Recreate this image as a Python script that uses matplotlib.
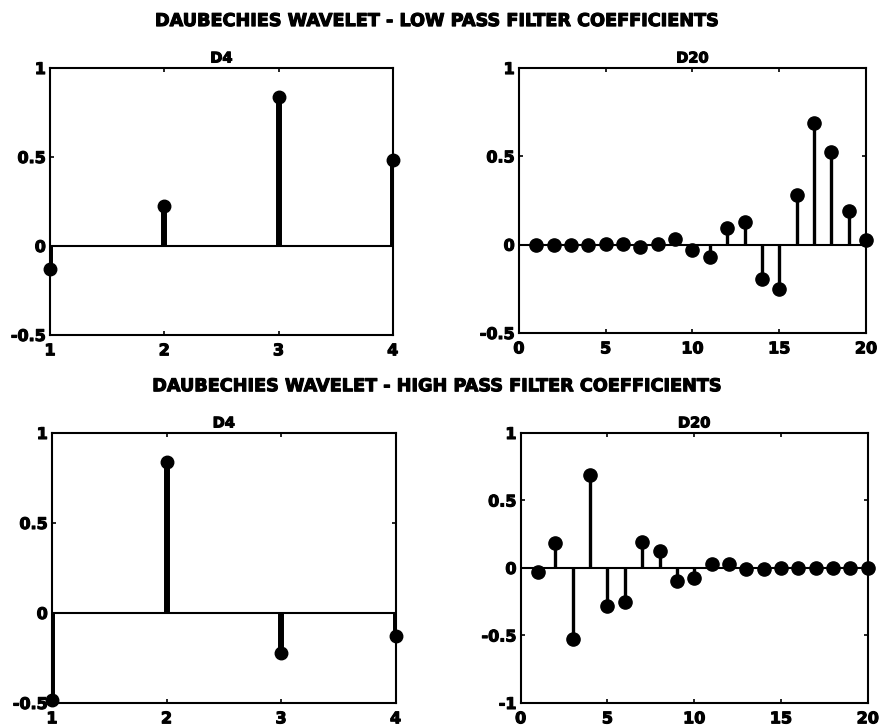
import numpy as np
import matplotlib.pyplot as plt
import matplotlib.patheffects as pe

# coefficient values
d4_low = [-0.129, 0.224, 0.837, 0.483]
d4_high = [-0.483, 0.837, -0.224, -0.129]
d20_low = [-0.00001, 0.0001, -0.0001, -0.0007, 0.002, 0.0014, -0.011, 0.004,
           0.033, -0.029, -0.071, 0.093, 0.127, -0.196, -0.250, 0.281,
           0.688, 0.527, 0.188, 0.027]
d20_high = [-0.027, 0.188, -0.527, 0.688, -0.281, -0.250, 0.196, 0.127,
            -0.093, -0.071, 0.029, 0.033, -0.004, -0.011, -0.0014, 0.002,
            0.0007, -0.0001, -0.0001, -0.00001]

plt.rcParams['font.family'] = 'DejaVu Sans'
plt.rcParams['font.weight'] = 'bold'

heavy = [pe.withStroke(linewidth=0.8, foreground='k')]

fig = plt.figure(figsize=(8.81, 7.26), dpi=100)


def stem_panel(rect, vals, title, xlim, xticks, ylim, yticks, lw, ms):
    ax = fig.add_axes(rect)
    x = np.arange(1, len(vals) + 1)
    ax.axhline(0, color='k', lw=1.5, zorder=1)
    ml, sl, bl = ax.stem(x, vals, linefmt='k-', markerfmt='ko', basefmt=' ')
    sl.set_linewidth(lw)
    ml.set_markersize(ms)
    ml.set_clip_on(False)
    ax.set_xlim(*xlim)
    ax.set_ylim(*ylim)
    ax.set_xticks(xticks)
    ax.set_yticks(yticks)
    ax.set_yticklabels([f'{t:g}' for t in yticks])
    ax.tick_params(direction='in', top=True, right=True, labelsize=11.5,
                   length=3, width=1.2, pad=3)
    ax.tick_params(axis='x', pad=6)
    for lab in ax.get_xticklabels() + ax.get_yticklabels():
        lab.set_path_effects(heavy)
    for s in ax.spines.values():
        s.set_linewidth(1.5)
    t = ax.set_title(title, fontsize=10.5, fontweight='bold', pad=4)
    t.set_path_effects(heavy)
    return ax


stem_panel([0.0568, 0.5386, 0.389, 0.3677], d4_low, 'D4', (1, 4), [1, 2, 3, 4],
           (-0.5, 1), [-0.5, 0, 0.5, 1], 4.3, 9)
stem_panel([0.589, 0.5413, 0.394, 0.365], d20_low, 'D20', (0, 20), [0, 5, 10, 15, 20],
           (-0.5, 1), [-0.5, 0, 0.5, 1], 2.4, 9.5)
stem_panel([0.059, 0.0317, 0.390, 0.3719], d4_high, 'D4', (1, 4), [1, 2, 3, 4],
           (-0.5, 1), [-0.5, 0, 0.5, 1], 4.3, 9)
stem_panel([0.591, 0.0317, 0.394, 0.3719], d20_high, 'D20', (0, 20), [0, 5, 10, 15, 20],
           (-1, 1), [-1, -0.5, 0, 0.5, 1], 2.4, 9.5)

for y, txt in [(0.971, 'DAUBECHIES WAVELET - LOW PASS FILTER COEFFICIENTS'),
               (0.468, 'DAUBECHIES WAVELET - HIGH PASS FILTER COEFFICIENTS')]:
    fig.text(0.496, y, txt, ha='center', va='center', fontsize=12.7,
             fontweight='bold', path_effects=heavy)

fig.savefig('out.png', dpi=100)
